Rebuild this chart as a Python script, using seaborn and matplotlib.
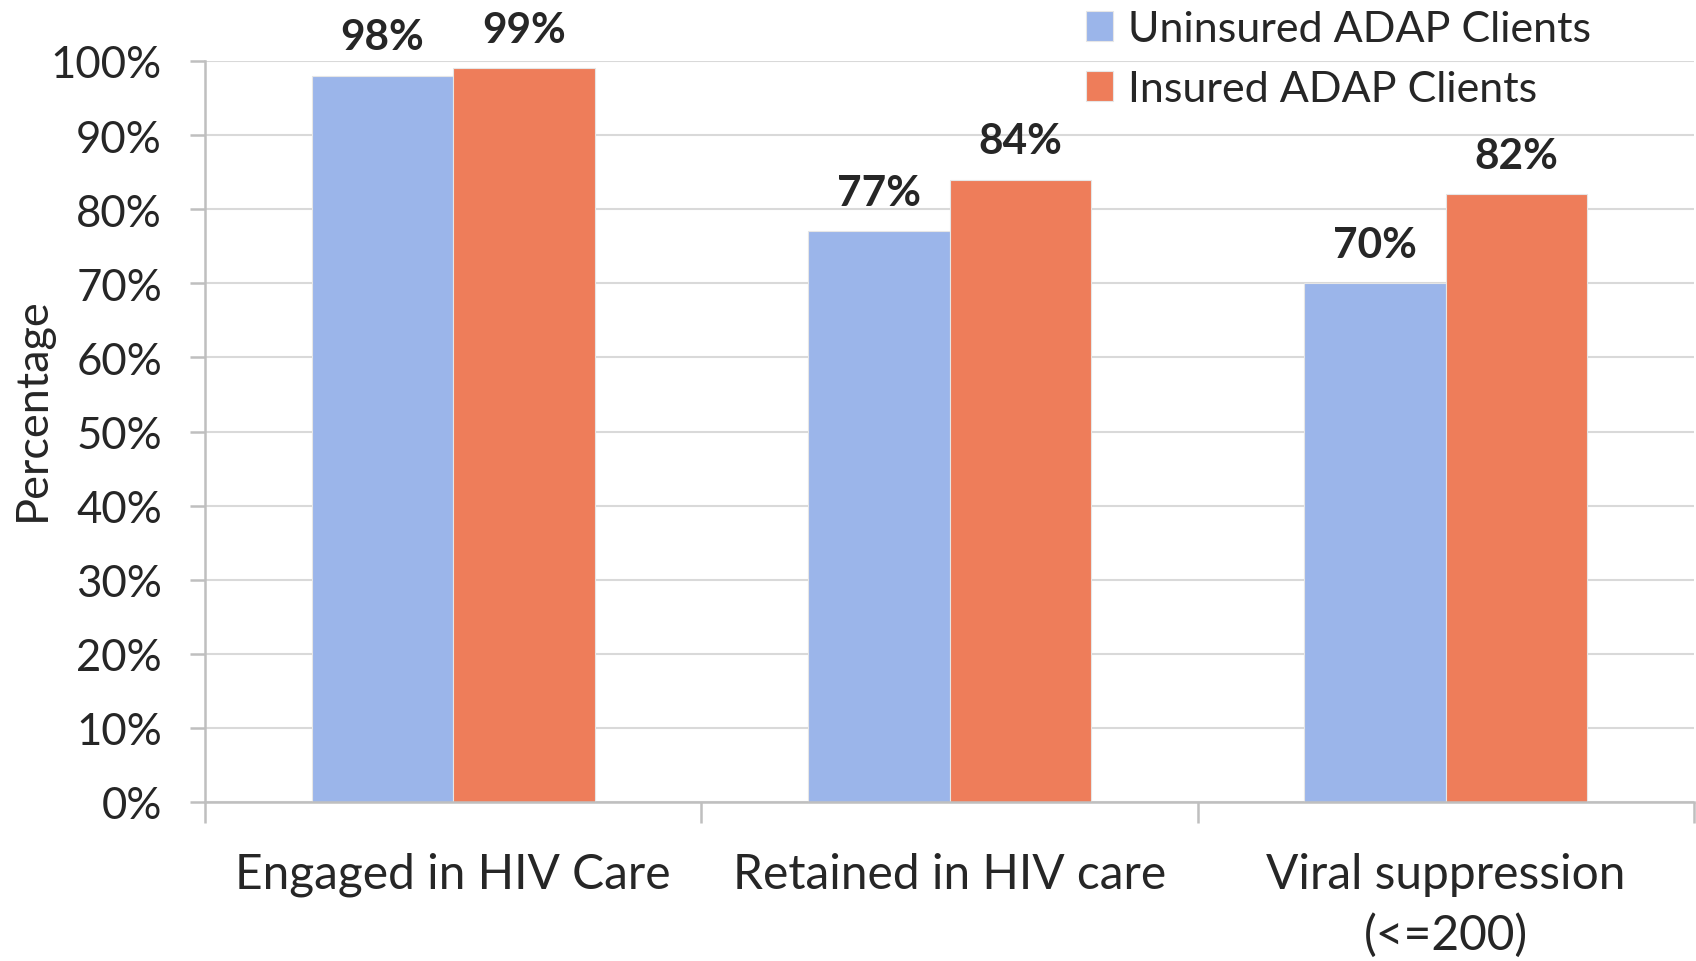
import pandas as pd
import matplotlib.pyplot as plt
import matplotlib.ticker as mticker
import seaborn as sns

categories = ["Engaged in HIV Care", "Retained in HIV care", "Viral suppression\n(<=200)"]
groups = ["Uninsured ADAP Clients", "Insured ADAP Clients"]
uninsured = [98, 77, 70]
insured = [99, 84, 82]
colors = ["#9BB5EA", "#EE7D5A"]

df = pd.DataFrame({
    "category": categories * 2,
    "group": [groups[0]] * 3 + [groups[1]] * 3,
    "value": uninsured + insured,
})

sns.set_style("white")
plt.rcParams["font.family"] = ["Lato", "DejaVu Sans"]

fig = plt.figure(figsize=(16.96, 9.62), dpi=100)
ax = fig.add_axes([205 / 1696, 1 - 803 / 962, (1694 - 205) / 1696, (803 - 62) / 962])

sns.barplot(data=df, x="category", y="value", hue="group", palette=colors,
            width=0.57, gap=0, saturation=1, edgecolor="#e6e6e6", linewidth=0.8, ax=ax)

# value labels above bars
for cont in ax.containers:
    ax.bar_label(cont, labels=[f"{int(b.get_height())}%" for b in cont],
                 padding=14, fontsize=30.5, fontweight="bold")

ax.set_ylim(0, 100)
ax.set_xlim(-0.5, 2.5)
ax.yaxis.set_major_locator(mticker.MultipleLocator(10))
ax.yaxis.set_major_formatter(mticker.FuncFormatter(lambda v, _: f"{int(v)}%"))
ax.grid(axis="y", color="#d9d9d9", linewidth=1.5)
ax.set_axisbelow(True)

for s in ["top", "right"]:
    ax.spines[s].set_visible(False)
for s in ["left", "bottom"]:
    ax.spines[s].set_color("#bfbfbf")
    ax.spines[s].set_linewidth(1.8)

ax.tick_params(axis="y", which="major", left=True, length=11, width=1.8, color="#bfbfbf",
               labelsize=31.5, pad=20)
ax.tick_params(axis="x", which="major", bottom=False, length=0, labelsize=34.5, pad=36)
ax.xaxis.set_minor_locator(mticker.FixedLocator([-0.5, 0.5, 1.5, 2.5]))
ax.tick_params(axis="x", which="minor", bottom=True, length=15, width=1.8, color="#bfbfbf")
for lbl in ax.get_xticklabels():
    lbl.set_linespacing(1.45)

ax.set_xlabel("")
ax.set_ylabel("")
fig.text(32 / 1696, 1 - 409 / 962, "Percentage", rotation=90, ha="center", va="center",
         fontsize=32.5)

ax.legend(loc="upper left", bbox_to_anchor=(0.58, 1.092), frameon=False, fontsize=31,
          handlelength=0.63, handleheight=0.7, handletextpad=0.35, labelspacing=0.52,
          borderaxespad=0)

fig.savefig("out.png", dpi=100)
